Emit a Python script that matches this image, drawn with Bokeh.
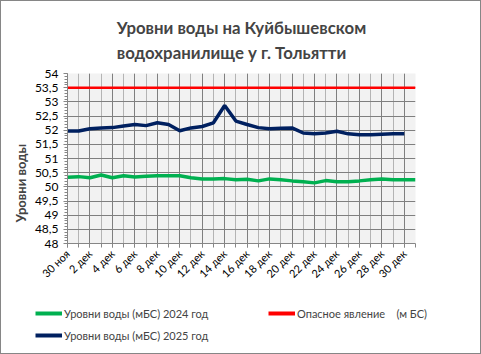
import math
from bokeh.plotting import figure
from bokeh.layouts import column
from bokeh.models import (SingleIntervalTicker, CustomJSTickFormatter, Legend,
                          LegendItem, Range1d, Title)
from bokeh.embed import file_html
from bokeh.resources import INLINE

dates = ["30 ноя", "1 дек", "2 дек", "3 дек", "4 дек", "5 дек", "6 дек", "7 дек",
         "8 дек", "9 дек", "10 дек", "11 дек", "12 дек", "13 дек", "14 дек", "15 дек",
         "16 дек", "17 дек", "18 дек", "19 дек", "20 дек", "21 дек", "22 дек", "23 дек",
         "24 дек", "25 дек", "26 дек", "27 дек", "28 дек", "29 дек", "30 дек", "31 дек"]

levels_2024 = [50.34, 50.36, 50.32, 50.42, 50.32, 50.39, 50.35, 50.37, 50.39, 50.39,
               50.39, 50.32, 50.28, 50.28, 50.29, 50.25, 50.27, 50.21, 50.28, 50.25,
               50.21, 50.18, 50.14, 50.22, 50.18, 50.18, 50.21, 50.25, 50.28, 50.25,
               50.25, 50.25]

levels_2025 = [51.97, 51.97, 52.05, 52.08, 52.09, 52.15, 52.20, 52.16, 52.26, 52.20,
               51.98, 52.08, 52.13, 52.26, 52.87, 52.32, 52.20, 52.09, 52.05, 52.07,
               52.08, 51.90, 51.87, 51.90, 51.96, 51.87, 51.84, 51.84, 51.86, 51.87,
               51.87]

DANGER_LEVEL = 53.5

series_names = ["Уровни воды (мБС) 2024 год", "Опасное явление    (м БС)",
                "Уровни воды (мБС) 2025 год"]

FONT = "Lato"
C24, C25, CD = "#00b050", "#002060", "#ff0000"

x24 = list(range(len(levels_2024)))
x25 = list(range(len(levels_2025)))
xd = list(range(len(dates)))
danger = [DANGER_LEVEL] * len(xd)

p = figure(width=479, height=298, output_backend="svg", toolbar_location=None,
           x_range=Range1d(0, len(dates) - 1), y_range=Range1d(48, 54),
           min_border_left=66, min_border_right=65, min_border_top=72,
           min_border_bottom=56, background_fill_color="#f2f2f2",
           border_fill_color="white", outline_line_color=None)
p.frame_align = False

p.title.text = "Уровни воды на Куйбышевском\nводохранилище у г. Тольятти"
p.title.align = "center"
p.title.text_font = FONT
p.title.text_font_style = "bold"
p.title.text_font_size = "16.8px"
p.title.text_line_height = 1.2
p.title.standoff = 21

gray = "#868686"

# x axis
xa = p.xaxis[0]
xa.ticker = SingleIntervalTicker(interval=2, num_minor_ticks=2)
xa.major_label_overrides = {i: dates[i] for i in range(0, len(dates), 2)}
xa.major_label_orientation = math.pi / 4
xa.major_label_text_font = FONT
xa.major_label_text_font_size = "11px"
xa.major_label_text_color = "black"
xa.axis_line_color = gray
xa.major_tick_line_color = gray
xa.minor_tick_line_color = gray
xa.major_tick_out = 4
xa.major_tick_in = 0
xa.minor_tick_out = 4
xa.minor_tick_in = 0
xa.major_label_standoff = 4

# y axis
ya = p.yaxis[0]
ya.ticker = SingleIntervalTicker(interval=0.5, num_minor_ticks=5)
ya.formatter = CustomJSTickFormatter(code="return tick.toString().replace('.', ',');")
ya.major_label_text_font = FONT
ya.major_label_text_font_size = "12px"
ya.major_label_text_color = "black"
ya.axis_line_color = gray
ya.major_tick_line_color = gray
ya.minor_tick_line_color = gray
ya.major_tick_out = 4
ya.major_tick_in = 0
ya.minor_tick_out = 3
ya.minor_tick_in = 0
ya.major_label_standoff = 5

ytitle = Title(text="Уровни воды", align="left", offset=21, text_font=FONT,
               text_font_size="13px", text_font_style="bold", standoff=5)
p.add_layout(ytitle, "left")

# grids
p.xgrid.grid_line_color = "#7f7f7f"
p.xgrid.minor_grid_line_color = "#b4b4b4"
p.ygrid.grid_line_color = "#7f7f7f"
p.ygrid.minor_grid_line_color = None

p.line(x24, levels_2024, line_color=C24, line_width=3.5)
p.line(x25, levels_2025, line_color=C25, line_width=3.5)
p.line(xd, danger, line_color=CD, line_width=2.5)

# legend strip (series drawn off-frame, only their legend keys are seen)
lg = figure(width=479, height=54, output_backend="svg", toolbar_location=None,
            x_range=Range1d(0, 1), y_range=Range1d(0, 1),
            x_axis_location=None, y_axis_location=None,
            min_border=0, outline_line_color=None,
            background_fill_color="white", border_fill_color="white")
lg.frame_align = False
lg.grid.visible = False
g24 = lg.line(x24, levels_2024, line_color=C24, line_width=4)
g25 = lg.line(x25, levels_2025, line_color=C25, line_width=4)
gd = lg.line(xd, danger, line_color=CD, line_width=4)

legend = Legend(items=[
    LegendItem(label=series_names[0], renderers=[g24]),
    LegendItem(label=series_names[2], renderers=[g25]),
    LegendItem(label=series_names[1], renderers=[gd]),
], ncols=2, location=(34, 8))
legend.background_fill_alpha = 0
legend.border_line_color = None
legend.label_text_font = FONT
legend.label_text_font_size = "11px"
legend.glyph_width = 27
legend.glyph_height = 20
legend.label_height = 20
legend.label_standoff = 2
legend.label_width = 202
legend.spacing = 2
legend.padding = 0
legend.margin = 0
lg.add_layout(legend)

layout = column(p, lg, spacing=0)
layout.styles = {"border": "1px solid #868686"}

open("out.html", "w").write(file_html(layout, INLINE))
